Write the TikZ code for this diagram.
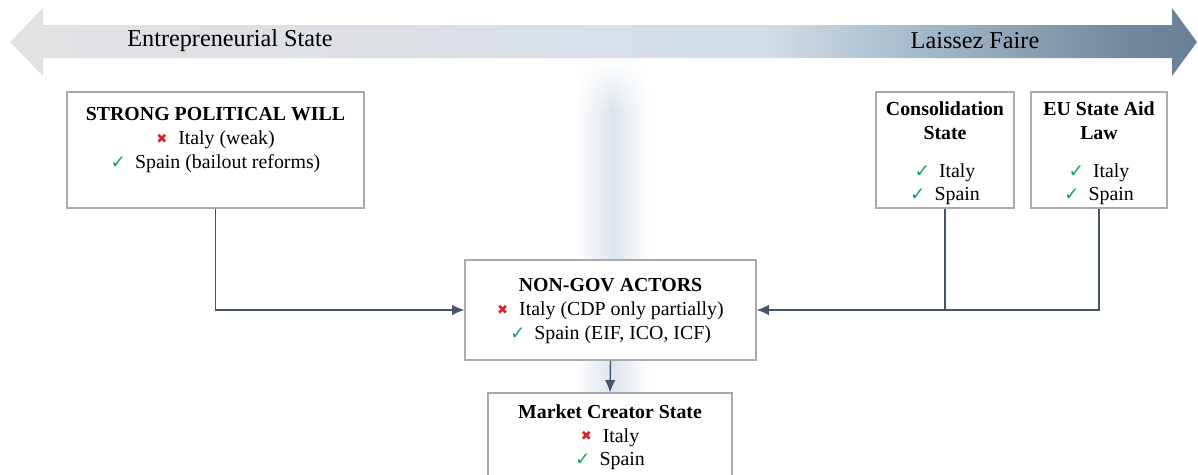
\documentclass[tikz,border=0pt]{standalone}
\usepackage{fontspec}
\setmainfont{Liberation Serif}
\newfontfamily\symfont{DejaVu Sans}
\usetikzlibrary{arrows.meta, calc, positioning, fadings}
\definecolor{linkslate}{RGB}{68,84,106}
\definecolor{boxgray}{RGB}{170,170,170}
\definecolor{okgreen}{RGB}{24,166,92}
\definecolor{nored}{RGB}{222,32,44}
\definecolor{bandblue}{RGB}{220,229,238}
\definecolor{barleft}{RGB}{225,226,228}
\definecolor{barA}{RGB}{220,223,228}
\definecolor{barB}{RGB}{215,224,234}
\definecolor{barC}{RGB}{210,221,231}
\definecolor{barD}{RGB}{180,198,212}
\definecolor{barE}{RGB}{145,165,183}
\definecolor{barF}{RGB}{115,136,158}
\definecolor{barright}{RGB}{105,127,150}
% left-to-right colour ramp of the top bar
\pgfdeclarehorizontalshading{statebar}{100bp}{color(0bp)=(barleft); color(25bp)=(barleft);
  color(41bp)=(barA); color(50bp)=(barB); color(57bp)=(barC); color(61bp)=(barD);
  color(67bp)=(barE); color(72bp)=(barF); color(75bp)=(barright); color(100bp)=(barright)}
\newcommand{\okmark}{{\symfont\color{okgreen}\fontsize{10.5}{10}\selectfont ✓}\hspace{0.45em}}
\newcommand{\nomark}{{\symfont\color{nored}\fontsize{7.5}{7}\selectfont\raisebox{0.2ex}{✖}}\hspace{0.55em}}
\tikzset{
  panel/.style={draw=boxgray, line width=0.7pt, fill=white, inner sep=0pt},
  panel text/.style={anchor=north, align=center, inner sep=0pt, font=\fontsize{11.3}{13.5}\selectfont},
  bar label/.style={font=\fontsize{13.8}{16}\selectfont, inner sep=0pt},
  link/.style={draw=linkslate, line width=0.8pt}
}

\begin{document}
\begin{tikzpicture}[x=0.02cm, y=-0.02cm, >={Latex[length=7pt,width=6pt]}]
    \useasboundingbox (0,0) rectangle (1198,474);
    \clip (0,0) rectangle (1198,474);

    % Soft vertical band behind the centre column
    \shade[left color=white, right color=white, middle color=bandblue] (575,110) rectangle (650,400);
    \shade[left color=white, right color=white, middle color=bandblue, path fading=north] (575,58) rectangle (650,110);

    % Double-headed scale bar
    \shade[shading=statebar] (10,42) -- (43,8) -- (43,25) -- (1172,25) -- (1172,8) -- (1197,42)
        -- (1172,76) -- (1172,58) -- (43,58) -- (43,76) -- cycle;
    \node[bar label] (es label) at (230,41) {Entrepreneurial State};
    \node[bar label] (lf label) at (975,41) {Laissez Faire};

    % Boxes
    \node[panel, minimum width=5.94cm, minimum height=2.32cm] (spw) at (215.5,150) {};
    \node[panel, minimum width=2.76cm, minimum height=2.32cm] (cons) at (945,150) {};
    \node[panel, minimum width=2.72cm, minimum height=2.32cm] (eu) at (1099,150) {};
    \node[panel, minimum width=5.82cm, minimum height=2.0cm] (nongov) at (610.5,310) {};
    \node[panel, minimum width=4.88cm, minimum height=2.0cm] (market) at (610,443) {};

    % Box contents
    \node[panel text] (spw text) at ([yshift=-0.32cm]spw.north)
        {\textbf{STRONG POLITICAL WILL}\\ \nomark Italy (weak)\\ \okmark Spain (bailout reforms)};
    \node[panel text] (cons text) at ([yshift=-0.2cm]cons.north)
        {\textbf{Consolidation}\\ \textbf{State}\\[8pt] \okmark Italy\\ \okmark Spain};
    \node[panel text] (eu text) at ([yshift=-0.2cm]eu.north)
        {\textbf{EU State Aid}\\ \textbf{Law}\\[8pt] \okmark Italy\\ \okmark Spain};
    \node[panel text] (nongov text) at ([yshift=-0.38cm]nongov.north)
        {\textbf{NON-GOV ACTORS}\\ \nomark Italy (CDP only partially)\\ \okmark Spain (EIF, ICO, ICF)};
    \node[panel text] (market text) at ([yshift=-0.24cm]market.north)
        {\textbf{Market Creator State}\\ \nomark Italy\\ \okmark Spain};

    % Connectors
    \draw[link, ->] (spw.south) |- (nongov.west);
    \draw[link, ->] (eu.south) |- (nongov.east);
    \draw[link] (cons.south) -- (cons.south |- nongov.east);
    \draw[link, ->] (nongov.south) -- (market.north);
\end{tikzpicture}
\end{document}
